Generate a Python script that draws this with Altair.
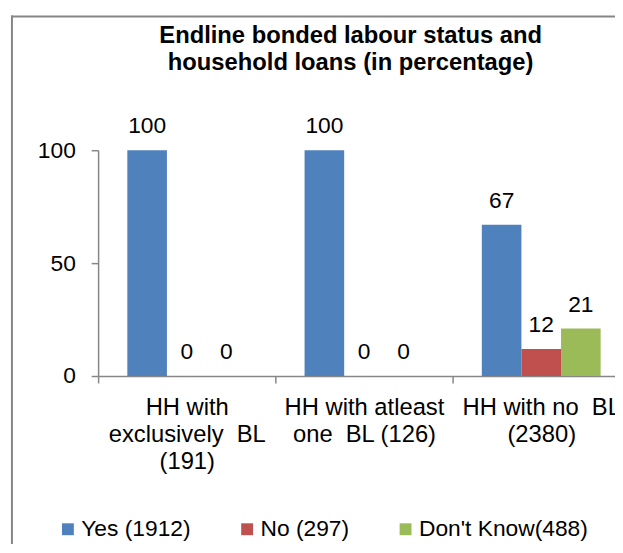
import altair as alt
import pandas as pd

categories = ["HH with|exclusively\u00a0 BL|(191)", "HH with atleast|one\u00a0 BL (126)", "HH with no\u00a0 BL|(2380)"]
series = ["Yes (1912)", "No (297)", "Don't Know(488)"]
yes_vals = [100, 100, 67]
no_vals = [0, 0, 12]
dk_vals = [0, 0, 21]
colors = ["#4F81BD", "#C0504D", "#9BBB59"]
title_lines = ["Endline bonded labour status and", "household loans (in percentage)"]
y_ticks = [0, 50, 100]

rows = []
for s, vals in zip(series, [yes_vals, no_vals, dk_vals]):
    for c, v in zip(categories, vals):
        rows.append({"category": c, "series": s, "value": v})
df = pd.DataFrame(rows)

FONT = "Liberation Sans"
GRAY = "#868686"

x_enc = alt.X("category:N", sort=categories, title=None,
              scale=alt.Scale(range=[0, 537], paddingInner=0, paddingOuter=0),
              axis=alt.Axis(labelExpr="split(datum.label, '|')", labelAngle=0,
                            labelFontSize=24, labelFont=FONT, labelColor="black",
                            labelLineHeight=27, labelPadding=13, tickSize=7,
                            tickBand="extent", domainColor=GRAY, tickColor=GRAY,
                            domainWidth=1.5, tickWidth=1.5, labelBaseline="top"))
xo_enc = alt.XOffset("series:N", sort=series,
                     scale=alt.Scale(paddingInner=0, paddingOuter=0.7375))
y_enc = alt.Y("value:Q", title=None, stack=None,
              scale=alt.Scale(domain=[0, 100], nice=False),
              axis=alt.Axis(values=y_ticks, grid=False, labelFontSize=23, labelFont=FONT,
                            labelColor="black", tickSize=7, labelPadding=16,
                            domainColor=GRAY, tickColor=GRAY, domainWidth=1.5, tickWidth=1.5))

bars = alt.Chart(df).mark_bar().encode(
    x=x_enc, xOffset=xo_enc, y=y_enc,
    color=alt.Color("series:N", sort=series,
                    scale=alt.Scale(domain=series, range=colors),
                    legend=alt.Legend(title=None, orient="none", legendX=-42, legendY=371,
                                      direction="horizontal", symbolType="square",
                                      symbolSize=144, symbolStrokeWidth=0,
                                      labelFontSize=23, labelFont=FONT, labelColor="black",
                                      labelOffset=2, columnPadding=45, labelLimit=400))
)

labels = alt.Chart(df).mark_text(baseline="middle", dy=-24, fontSize=23, font=FONT,
                                 color="black").encode(
    x=alt.X("category:N", sort=categories), xOffset=alt.XOffset("series:N", sort=series),
    y=alt.Y("value:Q"), text=alt.Text("value:Q"))

frame = alt.Data(values=[{}])
border_top = alt.Chart(frame).mark_rule(stroke=GRAY, strokeWidth=2).encode(
    x=alt.value(-88), x2=alt.value(700), y=alt.value(-135))
border_left = alt.Chart(frame).mark_rule(stroke=GRAY, strokeWidth=2).encode(
    x=alt.value(-87), y=alt.value(-136), y2=alt.value(600))

chart = alt.layer(border_top, border_left, bars, labels).properties(
    width=522, height=228,
    background="white",
    title=alt.TitleParams(text=title_lines, fontSize=24, font=FONT, fontWeight="bold",
                          anchor="middle", lineHeight=27, dx=-6, dy=65, color="black"),
    autosize=alt.AutoSizeParams(type="none"),
    padding={"left": 91, "top": 141, "right": 0, "bottom": 167},
).configure_view(stroke=None)

chart.save("out.html", embed_options={"renderer": "svg", "actions": False})
